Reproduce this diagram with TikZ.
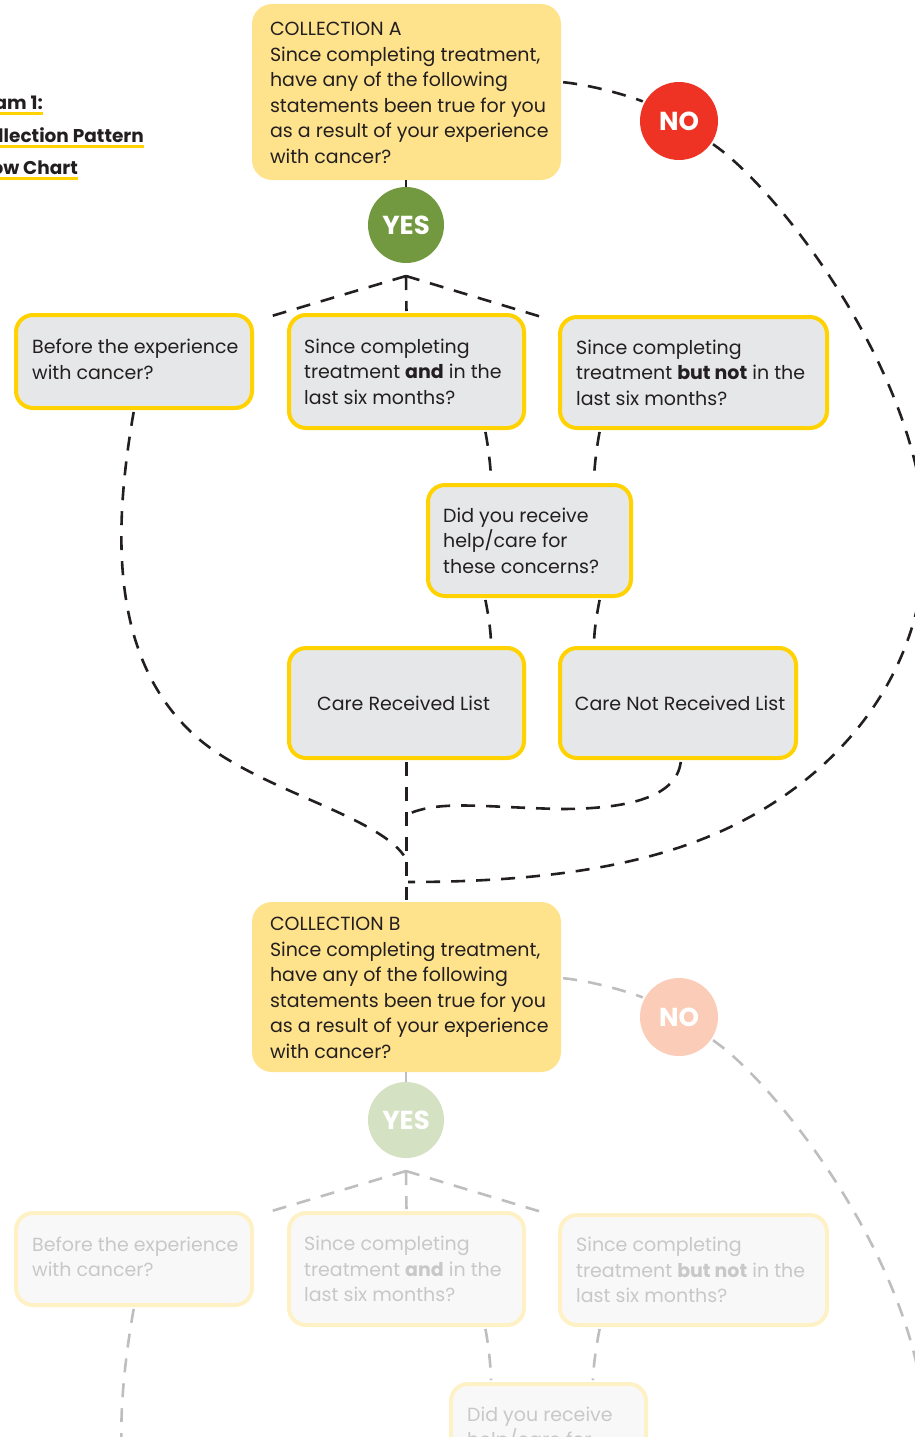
\documentclass[tikz,border=0pt]{standalone}
\usepackage{fontspec}
\setmainfont{Poppins}
\definecolor{ink}{HTML}{231F20}
\definecolor{colyel}{HTML}{FFE38C}
\definecolor{ybord}{HTML}{FFD200}
\definecolor{boxgrey}{HTML}{E6E7E8}
\definecolor{yesgreen}{HTML}{72993F}
\definecolor{nored}{HTML}{EE3325}
\definecolor{fyes}{HTML}{D5E1C3}
\definecolor{fno}{HTML}{FBCCB8}
\definecolor{ffill}{HTML}{F8F8F8}
\definecolor{fbord}{HTML}{FFF1C6}
\definecolor{ftext}{HTML}{C8C8C8}
\definecolor{fline}{HTML}{BEBEBE}
\newcommand{\bodyfont}{\fontsize{19}{25.5}\selectfont}
\begin{document}
\begin{tikzpicture}[x=1pt,y=-1pt,
  qbox/.style={draw=ybord,line width=4pt,fill=boxgrey,rounded corners=17pt,inner sep=0pt},
  fbox/.style={draw=fbord,line width=4pt,fill=ffill,rounded corners=17pt,inner sep=0pt},
  cbox/.style={fill=colyel,rounded corners=20pt,inner sep=0pt,minimum width=309pt},
  qtext/.style={anchor=west,align=left,inner sep=0pt,text=ink,font=\bodyfont},
  ftxt/.style={qtext,text=ftext},
  ctext/.style={align=center,inner sep=0pt,text=ink,font=\bodyfont},
  badge/.style={circle,inner sep=0pt,text=white,font=\bfseries\fontsize{26}{26}\selectfont},
  conn/.style={draw=ink,line width=2.6pt,dash pattern=on 14pt off 11pt,shorten <=2pt,shorten >=2pt},
  fconn/.style={conn,draw=fline},
  link/.style={draw=ink,line width=2.6pt},
  flink/.style={link,draw=fline},
  ttl/.style={anchor=base east,inner sep=0pt,text=ink,font=\bfseries\fontsize{18.5}{18.5}\selectfont},
  uline/.style={draw=ybord,line width=3pt}
]
\useasboundingbox (0,0) rectangle (915,1437);
\clip (0,0) rectangle (915,1437);

% title
\node[ttl] (t1) at (43,109) {Diagram 1:};
\node[ttl] (t2) at (144,142) {Collection Pattern};
\node[ttl] (t3) at (78,174) {Flow Chart};
\draw[uline] ([yshift=-4pt]t1.base west) -- ([yshift=-4pt]t1.base east);
\draw[uline] ([yshift=-4pt]t2.base west) -- ([yshift=-4pt]t2.base east);
\draw[uline] ([yshift=-4pt]t3.base west) -- ([yshift=-4pt]t3.base east);

% ---------- section A ----------
\node[cbox,minimum height=176pt] (A) at (406.5,92) {};
\node[qtext] (At) at ([xshift=18pt,yshift=-1pt]A.west) {COLLECTION A\\Since completing treatment,\\have any of the following\\statements been true for you\\as a result of your experience\\with cancer?};
\node[badge,fill=yesgreen,minimum size=76pt] (yes) at (406,225) {YES};
\node[badge,fill=nored,minimum size=78pt] (no) at (679,121) {NO};

\node[qbox,minimum width=236pt,minimum height=93pt] (before) at (134,361.5) {};
\node[qtext] (beforet) at ([xshift=18pt,yshift=2pt]before.west) {Before the experience\\with cancer?};
\node[qbox,minimum width=235pt,minimum height=113pt] (and) at (406.5,371.5) {};
\node[qtext] (andt) at ([xshift=17pt]and.west) {Since completing\\treatment \textbf{and} in the\\last six months?};
\node[qbox,minimum width=267pt,minimum height=111pt] (butnot) at (693.5,372.5) {};
\node[qtext] (butnott) at ([xshift=18pt]butnot.west) {Since completing\\treatment \textbf{but not} in the\\last six months?};
\node[qbox,minimum width=203pt,minimum height=111pt] (did) at (529.5,540.5) {};
\node[qtext] (didt) at ([xshift=17pt]did.west) {Did you receive\\help/care for\\these concerns?};
\node[qbox,minimum width=235pt,minimum height=110pt] (cr) at (406.5,703) {};
\node[ctext] (crt) at ([xshift=-3pt]cr.center) {Care Received List};
\node[qbox,minimum width=236pt,minimum height=110pt] (cnr) at (678,703) {};
\node[ctext] (cnrt) at ([xshift=2pt]cnr.center) {Care Not Received List};

\node[cbox,minimum height=170pt] (B) at (406.5,987) {};

\coordinate (apex) at (406,276);
\coordinate (la) at (265,318);
\coordinate (ra) at (545,318);
\coordinate (jl) at (405,857);
\coordinate (jr) at (406,815);
\coordinate (rmax) at (925,540);
\coordinate (bmid) at (700,840);
\coordinate (jb) at (406,882);

\draw[link] (A.south -| yes) -- (yes.north);
\draw[conn,shorten <=0pt] (apex) -- (la);
\draw[conn,shorten <=0pt] (apex) -- (ra);
\draw[conn,shorten <=0pt] (apex) -- (and.north);
\draw[conn] ([xshift=78.5pt]and.south) .. controls +(3,15) and +(0,-15) .. ([xshift=-38.5pt]did.north);
\draw[conn] ([xshift=-93.5pt]butnot.south) .. controls +(-3,15) and +(0,-15) .. ([xshift=64.5pt]did.north);
\draw[conn] ([xshift=-44.5pt]did.south) .. controls +(3,15) and +(0,-15) .. ([xshift=84.5pt]cr.north);
\draw[conn] ([xshift=70.5pt]did.south) .. controls +(-3,15) and +(0,-15) .. ([xshift=-84pt]cnr.north);
\draw[conn] (cr.south) -- (B.north);
\draw[conn] (before.south) .. controls (115,520) and (105,660) .. (200,740) .. controls (260,790) and (375,815) .. (jl);
\draw[conn] ([xshift=3pt]cnr.south) .. controls (676,800) and (620,809) .. (560,809) .. controls (480,807) and (440,800) .. (jr);
\draw[conn] ([yshift=10pt]A.east) .. controls (600,86) and (640,100) .. (no);
\draw[conn] (no) .. controls (780,190) and (925,380) .. (rmax) .. controls (925,680) and (830,790) .. (bmid) .. controls (620,871) and (520,882) .. (jb);

% ---------- section B (faded) ----------
\node[qtext] (Bt) at ([xshift=18pt,yshift=-1pt]B.west) {COLLECTION B\\Since completing treatment,\\have any of the following\\statements been true for you\\as a result of your experience\\with cancer?};
\node[badge,fill=fyes,minimum size=76pt] (yesB) at (406,1120) {YES};
\node[badge,fill=fno,minimum size=78pt] (noB) at (679,1017) {NO};

\node[fbox,minimum width=236pt,minimum height=92pt] (beforeB) at (134,1259) {};
\node[ftxt] (beforeBt) at ([xshift=18pt,yshift=2pt]beforeB.west) {Before the experience\\with cancer?};
\node[fbox,minimum width=235pt,minimum height=112pt] (andB) at (406.5,1269) {};
\node[ftxt] (andBt) at ([xshift=17pt]andB.west) {Since completing\\treatment \textbf{and} in the\\last six months?};
\node[fbox,minimum width=267pt,minimum height=110pt] (butnotB) at (693.5,1270) {};
\node[ftxt] (butnotBt) at ([xshift=18pt]butnotB.west) {Since completing\\treatment \textbf{but not} in the\\last six months?};
\node[fbox,minimum width=195pt,minimum height=111pt] (didB) at (548.5,1439.5) {};
\node[ftxt] (didBt) at ([xshift=18pt]didB.west) {Did you receive\\help/care for\\these concerns?};

\coordinate (apexB) at (406,1171);
\coordinate (laB) at (265,1213);
\coordinate (raB) at (545,1213);
\coordinate (rmaxB) at (925,1436);

\draw[flink] (B.south -| yesB) -- (yesB.north);
\draw[fconn,shorten <=0pt] (apexB) -- (laB);
\draw[fconn,shorten <=0pt] (apexB) -- (raB);
\draw[fconn,shorten <=0pt] (apexB) -- (andB.north);
\draw[fconn] ([xshift=78.5pt]andB.south) .. controls +(3,15) and +(0,-15) .. ([xshift=-57.5pt]didB.north);
\draw[fconn] ([xshift=-93.5pt]butnotB.south) .. controls +(-3,15) and +(0,-15) .. ([xshift=44.5pt]didB.north);
\draw[fconn] (beforeB.south) .. controls (115,1416) and (105,1556) .. (200,1636);
\draw[fconn] ([yshift=9pt]B.east) .. controls (600,982) and (640,996) .. (noB);
\draw[fconn] (noB) .. controls (780,1086) and (925,1276) .. (rmaxB);
\end{tikzpicture}
\end{document}
